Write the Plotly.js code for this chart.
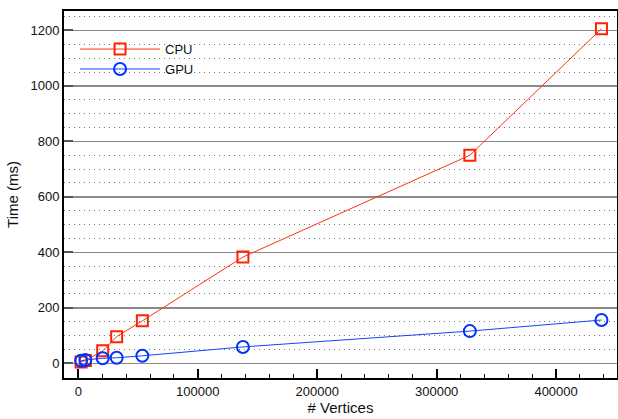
<!DOCTYPE html>
<html><head><meta charset="utf-8">
<script src="https://cdn.plot.ly/plotly-3.0.1.min.js"></script>
<style>html,body{margin:0;padding:0;background:#fff}#c{width:618px;height:419px}</style>
</head><body><div id="c"></div>
<script>
var vertices = [2300, 5900, 20400, 32100, 53600, 137800, 327800, 438000];
var cpuTime = [5, 10, 45, 96, 153, 383, 750, 1206];
var gpuTime = [9, 12, 18, 20, 27, 59, 116, 156];
var seriesNames = ['CPU', 'GPU'];

var traces = [
  {x: vertices, y: cpuTime, name: seriesNames[0], type: 'scatter', mode: 'lines+markers',
   line: {color: '#ff3311', width: 1},
   marker: {symbol: 'square-open', size: 11, color: '#ff2200', line: {width: 2, color: '#ff2200'}}},
  {x: vertices, y: gpuTime, name: seriesNames[1], type: 'scatter', mode: 'lines+markers',
   line: {color: '#1144ff', width: 1},
   marker: {symbol: 'circle-open', size: 12, color: '#0033ff', line: {width: 2, color: '#0033ff'}}}
];
var font = {family: 'Liberation Sans, Arial, Helvetica, sans-serif', size: 13, color: '#111'};
var layout = {
  width: 618, height: 419,
  margin: {l: 64, r: 1, t: 11, b: 41},
  paper_bgcolor: '#fff', plot_bgcolor: '#fff',
  font: font,
  showlegend: true,
  legend: {x: 0.02, y: 0.937, xanchor: 'left', yanchor: 'top', bgcolor: 'rgba(0,0,0,0)',
           itemwidth: 80, font: {family: font.family, size: 13, color: '#111'}, tracegroupgap: 0},
  xaxis: {
    range: [-12000, 451000], tickvals: [0, 100000, 200000, 300000, 400000],
    ticktext: ['0', '100000', '200000', '300000', '400000'],
    showgrid: false, zeroline: false, showline: true, linecolor: '#000', linewidth: 2, mirror: true,
    ticks: 'inside', ticklen: 9, tickwidth: 2, tickcolor: '#000',
    minor: {dtick: 20000, tick0: 0, ticks: 'inside', ticklen: 4, tickwidth: 1, tickcolor: '#000', showgrid: false},
    title: {text: '# Vertices', font: {family: font.family, size: 15, color: '#111'}, standoff: 4}
  },
  yaxis: {
    range: [-53, 1270], tickvals: [0, 200, 400, 600, 800, 1000, 1200],
    showgrid: true, gridcolor: '#8a8a8a', gridwidth: 1.5, zeroline: false,
    showline: true, linecolor: '#000', linewidth: 2, mirror: true,
    ticks: 'inside', ticklen: 9, tickwidth: 2, tickcolor: '#555',
    minor: {dtick: 50, tick0: 0, showgrid: true, gridcolor: '#777', griddash: '1px,4px', gridwidth: 1},
    title: {text: 'Time (ms)', font: {family: font.family, size: 15, color: '#111'}, standoff: 8}
  }
};
Plotly.newPlot('c', traces, layout, {displayModeBar: false, staticPlot: true});
</script>
</body></html>
